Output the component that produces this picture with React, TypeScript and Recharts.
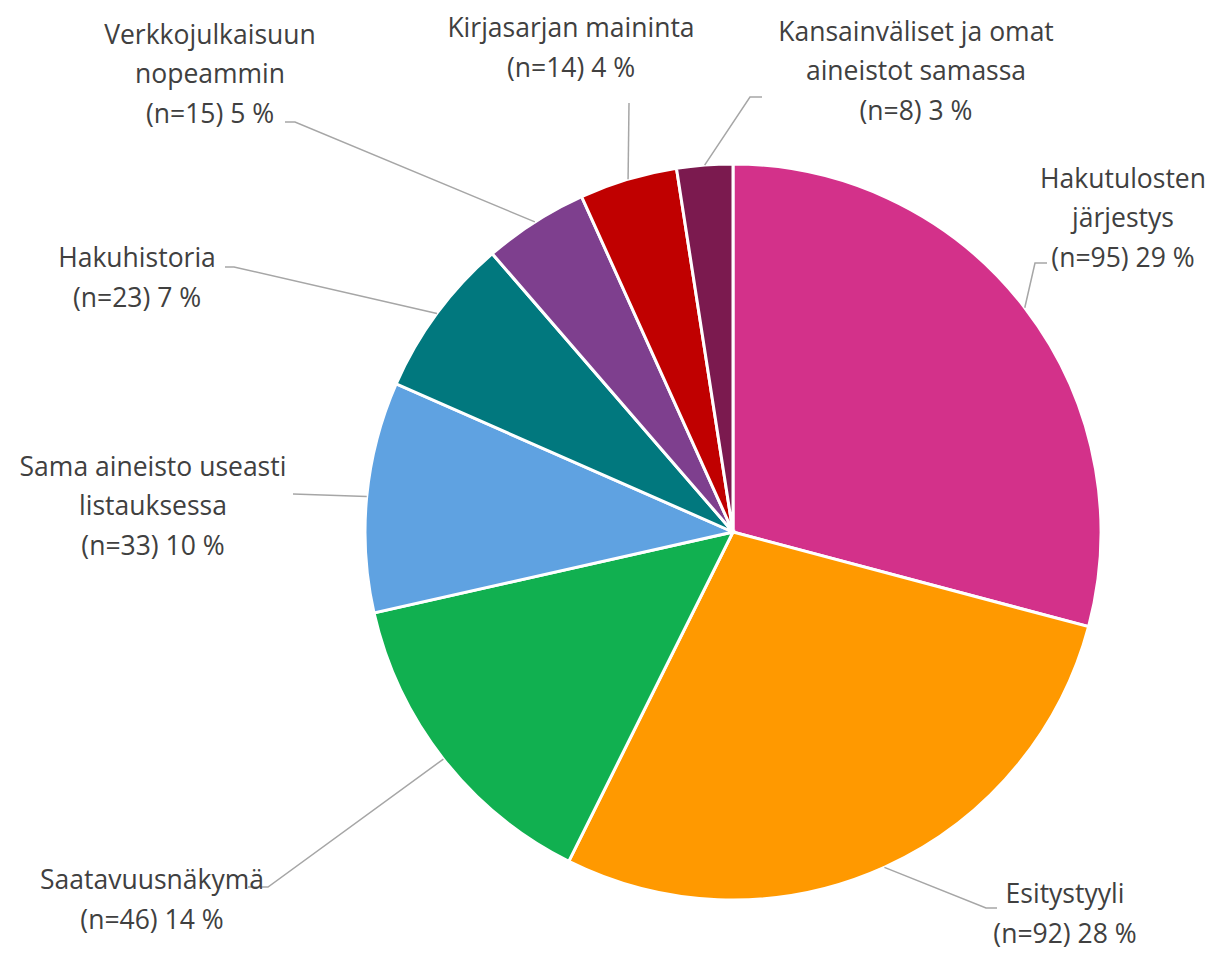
import { PieChart, Pie, Cell } from 'recharts';

// Slices run clockwise from 12 o'clock
const CATEGORIES = [
  'Hakutulosten\njärjestys',
  'Esitystyyli',
  'Saatavuusnäkymä',
  'Sama aineisto useasti\nlistauksessa',
  'Hakuhistoria',
  'Verkkojulkaisuun\nnopeammin',
  'Kirjasarjan maininta',
  'Kansainväliset ja omat\naineistot samassa',
];
const COUNTS = [95, 92, 46, 33, 23, 15, 14, 8];
const PERCENT_LABELS = [29, 28, 14, 10, 7, 5, 4, 3];

const COLORS = ['#D3318A', '#FF9900', '#11B050', '#5FA2E1', '#01787E', '#7E3F8E', '#C00000', '#7B1A4F'];

// label placement: elbow of the leader line (relative to pie centre),
// horizontal stub length, and text block centre relative to the elbow
const LABEL_LAYOUT = [
  { elbow: [302, -269], stub: 12, text: [88, -46] },
  { elbow: [253, 376], stub: 11, text: [79, 5] },
  { elbow: [-465, 355], stub: -20, text: [-116, 12] },
  { elbow: [-440, -38], stub: 0, text: [-140, 11] },
  { elbow: [-499, -265], stub: -9, text: [-97, 10] },
  { elbow: [-438, -410], stub: -10, text: [-85, -49] },
  { elbow: [-104, -429], stub: 0, text: [-58, -56] },
  { elbow: [17, -435], stub: 12, text: [166, -27] },
];

const data = CATEGORIES.map((name, i) => ({ name, value: COUNTS[i], pct: PERCENT_LABELS[i] }));

const RAD = Math.PI / 180;
const LINE_H = 39.5;

function renderLabel(props: any) {
  const { cx, cy, midAngle, outerRadius, index } = props;
  const layout = LABEL_LAYOUT[index];
  const d = data[index];
  const sx = cx + Math.cos(-midAngle * RAD) * outerRadius;
  const sy = cy + Math.sin(-midAngle * RAD) * outerRadius;
  const ex = cx + layout.elbow[0];
  const ey = cy + layout.elbow[1];
  const tx = ex + layout.text[0];
  const ty = ey + layout.text[1];
  const lines = [...d.name.split('\n'), `(n=${d.value}) ${d.pct} %`];
  const top = ty - ((lines.length - 1) / 2) * LINE_H;
  return (
    <g key={`lbl-${index}`}>
      <polyline
        points={`${sx},${sy} ${ex},${ey} ${ex + layout.stub},${ey}`}
        fill="none"
        stroke="#A6A6A6"
        strokeWidth={1.5}
      />
      <text
        x={tx}
        y={top}
        textAnchor="middle"
        dominantBaseline="central"
        fill="#404040"
        fontSize={26.5}
        fontFamily="'Open Sans', Lato, sans-serif"
      >
        {lines.map((ln, k) => (
          <tspan key={k} x={tx} y={top + k * LINE_H} dominantBaseline="central">
            {ln}
          </tspan>
        ))}
      </text>
    </g>
  );
}

export default function App() {
  return (
    <div style={{ position: 'fixed', left: 0, top: 0, width: 1221, height: 954, background: '#fff' }}>
      <PieChart width={1221} height={954} margin={{ top: 0, right: 0, bottom: 0, left: 0 }}>
        <Pie
          data={data}
          dataKey="value"
          nameKey="name"
          cx={733}
          cy={532}
          outerRadius={368}
          startAngle={90}
          endAngle={-270}
          stroke="#ffffff"
          strokeWidth={3}
          labelLine={false}
          label={renderLabel}
          isAnimationActive={false}
        >
          {data.map((_, i) => (
            <Cell key={i} fill={COLORS[i]} />
          ))}
        </Pie>
      </PieChart>
    </div>
  );
}
